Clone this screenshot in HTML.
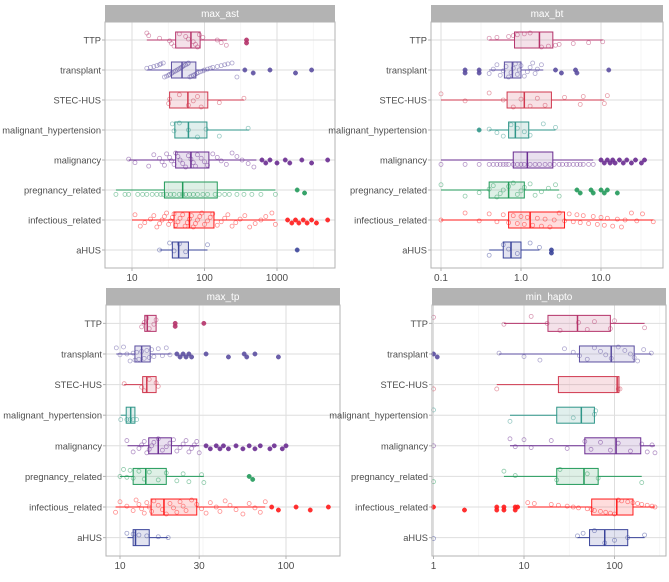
<!DOCTYPE html>
<html><head><meta charset="utf-8"><style>
body{margin:0;background:#fff;}
svg{display:block;font-family:"Liberation Sans",sans-serif;}
</style></head><body>
<svg id="chart" width="669" height="582" viewBox="0 0 669 582"></svg>
<script>
const categories=["TTP","transplant","STEC-HUS","malignant_hypertension","malignancy","pregnancy_related","infectious_related","aHUS"];
const colors=["#b5336a","#5b4ea0","#d0394f","#2f9689","#6a2c91","#229a5a","#ff1a1a","#3a449a"];
const panelTitles=["max_ast","max_bt","max_tp","min_hapto"];
const astTicks=[10,100,1000]; const astTickLabels=["10","100","1000"];
const btTicks=[0.1,1,10]; const btTickLabels=["0.1","1.0","10.0"];
const tpTicks=[10,30,100]; const tpTickLabels=["10","30","100"];
const haptoTicks=[1,10,100]; const haptoTickLabels=["1","10","100"];
// box stats: q1, median, q3, whisker low, whisker high
const astQ1=[40,35,33,39,40,28,38,36], astMed=[65,49,59,60,65,50,62,44], astQ3=[87,76,111,108,115,150,135,60], astLo=[16,16,32,38,9,6,10,24], astHi=[204,310,350,410,520,950,950,110];
const astPts=[[16,17,24,33,35,38,45,55,60,70,75,80,85,95,150,170,200],[16,18,20,22,24,25,27,28,30,32,33,35,36,38,40,42,44,46,48,50,52,55,58,60,63,66,70,74,78,82,88,95,100,110,120,130,150,170,190,210,240,280],[32,33,45,60,70,80,90,160,350],[36,38,45,60,80,105,160,400],[9,11,17,20,24,26,28,30,33,35,38,40,43,46,50,55,60,65,70,75,80,90,100,110,130,150,170,200,240,280,330,400,480],[6,8,9,12,14,16,19,22,25,27,30,34,38,45,50,55,62,70,80,95,110,140,160,190,220,280,350,450,600,950],[11,13,15,18,20,22,24,26,28,30,32,34,36,38,40,43,46,50,54,58,62,66,70,75,80,86,92,100,110,120,130,150,170,190,210,240,270,310,360,420,500,600,700,850,950],[24,33,38,45,55,110]];
const astOut=[[380,380],[360,470,800,1800,3000],[],[],[620,700,800,1000,1300,1500,2200,3000,5000],[1900,2400],[1400,1600,1800,2000,2300,2600,3000,3500,5000],[1900]];
const btQ1=[0.83,0.62,0.67,0.7,0.8,0.4,0.7,0.6], btMed=[1.7,0.78,1.1,0.85,1.2,0.7,1.3,0.75], btQ3=[2.5,1.0,2.4,1.25,2.5,1.1,3.5,1.0], btLo=[0.4,0.4,0.1,0.4,0.1,0.1,0.1,0.4], btHi=[10.5,1.9,11,2.7,8,3,45,1.7];
const btPts=[[0.4,0.5,0.7,0.8,0.9,1.1,1.3,1.8,2.2,2.7,3.0,4.5,7,10.5],[0.4,0.45,0.5,0.55,0.6,0.65,0.7,0.75,0.8,0.85,0.9,0.95,1.0,1.1,1.2,1.3,1.4,1.5,1.6,1.8],[0.1,0.2,0.4,0.6,0.8,1.0,1.3,1.6,2.0,3.5,5.5,6,11,12],[0.4,0.5,0.6,0.75,0.9,1.1,1.3,1.9,2.7],[0.1,0.2,0.3,0.4,0.45,0.5,0.55,0.6,0.65,0.7,0.8,0.9,1.0,1.1,1.3,1.5,1.7,2.0,2.3,2.6,3.0,3.3,3.7,4,4.5,5,5.5,6,7,8],[0.1,0.2,0.3,0.4,0.45,0.5,0.55,0.6,0.7,0.8,0.9,1.0,1.1,1.3,1.5,1.8,2.2,2.7,3.0],[0.1,0.2,0.3,0.4,0.5,0.6,0.7,0.8,0.9,1,1.1,1.2,1.4,1.6,1.8,2,2.3,2.6,3,3.5,4,4.5,5,5.5,6,7,8,9,10,11,12,14,16,18,20,24,28,33,45],[0.4,0.6,0.7,0.9,1.3,1.7]];
const btOut=[[],[0.2,0.2,0.3,0.3,2.7,3.2,4.8,5,12.5],[],[0.3],[10,11,12,13,14,15,17,19,21,24,27,32,35],[5,5.5,7.5,8,10,11,12,16],[],[2.4,2.4]];
const tpQ1=[14.1,12.3,13.7,10.9,14.9,12,15.4,12], tpMed=[14.6,13.5,14.5,11.6,17,14.3,18.4,12.4], tpQ3=[16.5,15.2,16.5,12.3,20.4,19,29,15], tpLo=[13.5,9.5,10.6,10.1,11.1,10,9.4,11.1], tpHi=[16.5,20.2,16.5,12.3,30,32,75,19.5];
const tpPts=[[13.5,14,14.5,15,16,16.5],[9.5,10,10.5,11,11.5,12,12.3,12.6,13,13.5,14,14.5,15,15.5,16,17,18,19,20],[10.6,13.5,14,15,16.5,17],[10.1,11,11.5,12,12.6],[11,12,13,13.5,14,14.5,15,15.5,16,17,18,19,20,21,22,23,24,25,26,27,28,29,30],[10,10.5,11,11.5,12,13,14,15,17,19,22,24,26,31,32],[9.4,10,11,12,12.5,13,13.5,14,14.5,15,15.5,16,17,18,19,20,21,22,23,24,25,27,29,31,33,35,38,40,43,46,50,55,60,65,70,75],[11,12,13,14.5,17,19.5]];
const tpOut=[[21.5,21.5,32],[22,23,24,25,26,27,33,45,56,58,65,90],[],[],[33,35,38,40,42,45,50,55,60,65,70,80,85,95,100],[60,63],[82,90,115,140,180],[]];
const haptoQ1=[18.4,41,24,23,47,23,56,53], haptoMed=[39,92,107,43,104,46,106,78], haptoQ3=[90,165,112,60,195,66,160,140], haptoLo=[6,5.3,5,7,7,6,11,39], haptoHi=[215,255,112,60,280,200,280,215];
const haptoPts=[[1,6,12,18,25,40,50,60,90,100,215],[5.3,10,15,28,35,41,50,60,70,80,92,110,130,150,165,180,210,255],[1,5,110,115],[1,7,35,60,62],[1,7,8,10,12,20,30,47,55,70,90,110,150,200,230,260,280],[1,6,8,23,25,50,66,200],[11,13,20,24,30,35,40,50,56,60,70,80,90,100,110,120,140,160,180,200,230,260,280],[1,39,45,60,78,100,140,215]];
const haptoOut=[[],[1,1.1],[],[],[],[],[1,2.2,5,5,6,6,8,8,8.5],[]];

const NS="http://www.w3.org/2000/svg";
const svg=document.getElementById('chart');
function mk(tag,attrs,parent){const e=document.createElementNS(NS,tag);for(const k in attrs)e.setAttribute(k,attrs[k]);(parent||svg).appendChild(e);return e;}

const panels=[
 {x0:105,x1:335,y0:22,y1:268,sy:5,ref:10,refX:132,dec:72.5,ticks:astTicks,labels:astTickLabels,q1:astQ1,med:astMed,q3:astQ3,lo:astLo,hi:astHi,pts:astPts,out:astOut},
 {x0:431,x1:663,y0:22,y1:268,sy:5,ref:1,refX:521,dec:80,ticks:btTicks,labels:btTickLabels,q1:btQ1,med:btMed,q3:btQ3,lo:btLo,hi:btHi,pts:btPts,out:btOut},
 {x0:106,x1:340,y0:305,y1:556,sy:288,ref:10,refX:120,dec:166,ticks:tpTicks,labels:tpTickLabels,q1:tpQ1,med:tpMed,q3:tpQ3,lo:tpLo,hi:tpHi,pts:tpPts,out:tpOut},
 {x0:432,x1:666,y0:305,y1:556,sy:288,ref:1,refX:433.5,dec:90.5,ticks:haptoTicks,labels:haptoTickLabels,q1:haptoQ1,med:haptoMed,q3:haptoQ3,lo:haptoLo,hi:haptoHi,pts:haptoPts,out:haptoOut}
];
function jit(i,k){return (((i*37+k*91+i*k*13)%17)/16-0.5);}

panels.forEach((p,pi)=>{
 const g=mk('g',{});
 
 
 const X=v=>p.refX+p.dec*Math.log10(v/p.ref);
 const step=(p.y1-p.y0)/8.2;
 const Y=i=>p.y0+step*(0.6+i);
 const st=mk('rect',{x:p.x0,y:p.sy,width:p.x1-p.x0,height:p.y0-p.sy,fill:'#b3b3b3'},g);
 
 
 const stt=mk('text',{x:(p.x0+p.x1)/2,y:(p.sy+p.y0)/2+3.5,'text-anchor':'middle','font-size':10,fill:'#fff'},g);
 stt.textContent=panelTitles[pi];
 
 
 const minLo=Math.log10(p.ticks[0])-1, minHi=Math.log10(p.ticks[p.ticks.length-1])+1;
 for(let e=Math.floor(minLo*2)/2;e<=minHi;e+=0.5){
   const gx=X(Math.pow(10,e)); if(gx<=p.x0||gx>=p.x1) continue;
   const major=p.ticks.some(t=>Math.abs(Math.log10(t)-e)<1e-6);
   if(!major) mk('line',{x1:gx,x2:gx,y1:p.y0,y2:p.y1,stroke:'#f0f0f0','stroke-width':0.6},g);
 }
 p.ticks.forEach((t,ti)=>{
   const gx=X(t);
   const gl=mk('line',{x1:gx,x2:gx,y1:p.y0,y2:p.y1,stroke:'#dedede','stroke-width':1},g);
   
   
   mk('line',{x1:gx,x2:gx,y1:p.y1,y2:p.y1+3,stroke:'#b3b3b3'},g);
   const tl=mk('text',{x:gx,y:p.y1+13,'text-anchor':'middle','font-size':10,fill:'#4d4d4d'},g);
   tl.textContent=p.labels[ti];
   
   
 });
 categories.forEach((c,i)=>{
   const y=Y(i);
   mk('line',{x1:p.x0,x2:p.x1,y1:y,y2:y,stroke:'#dedede','stroke-width':1},g);
   mk('line',{x1:p.x0-3,x2:p.x0,y1:y,y2:y,stroke:'#b3b3b3'},g);
   const lab=mk('text',{x:p.x0-4,y:y+3.5,'text-anchor':'end','font-size':9.3,fill:'#4d4d4d'},g);
   lab.textContent=c;
   
   
 });
 const clip=mk('g',{},g);
 categories.forEach((c,i)=>{
   const y=Y(i), col=colors[i], h=8;
   p.pts[i].forEach((v,k)=>{
     const pt=mk('circle',{cx:X(v),cy:y+jit(k,i+pi)*14,r:2,fill:'none',stroke:col,'stroke-width':0.8,opacity:0.5},clip);
     
     
   });
   const w1=mk('line',{x1:X(p.lo[i]),x2:X(p.q1[i]),y1:y,y2:y,stroke:col,'stroke-width':1},clip);
   
   
   const w2=mk('line',{x1:X(p.q3[i]),x2:X(p.hi[i]),y1:y,y2:y,stroke:col,'stroke-width':1},clip);
   
   
   const bx=mk('rect',{x:X(p.q1[i]),y:y-h,width:X(p.q3[i])-X(p.q1[i]),height:2*h,fill:col,'fill-opacity':0.15,stroke:col,'stroke-width':1},clip);
   
   
   const md=mk('line',{x1:X(p.med[i]),x2:X(p.med[i]),y1:y-h,y2:y+h,stroke:col,'stroke-width':1.5},clip);
   
   
   p.out[i].forEach((v,k)=>{
     const o=mk('circle',{cx:X(v),cy:y+(k%2?3:0),r:2.2,fill:col,stroke:col,'stroke-width':0.5,opacity:0.9},clip);
     
     
   });
 });
 const bd=mk('rect',{x:p.x0,y:p.y0,width:p.x1-p.x0,height:p.y1-p.y0,fill:'none',stroke:'#b3b3b3','stroke-width':1},g);
 
 
});
</script>
</body></html>
